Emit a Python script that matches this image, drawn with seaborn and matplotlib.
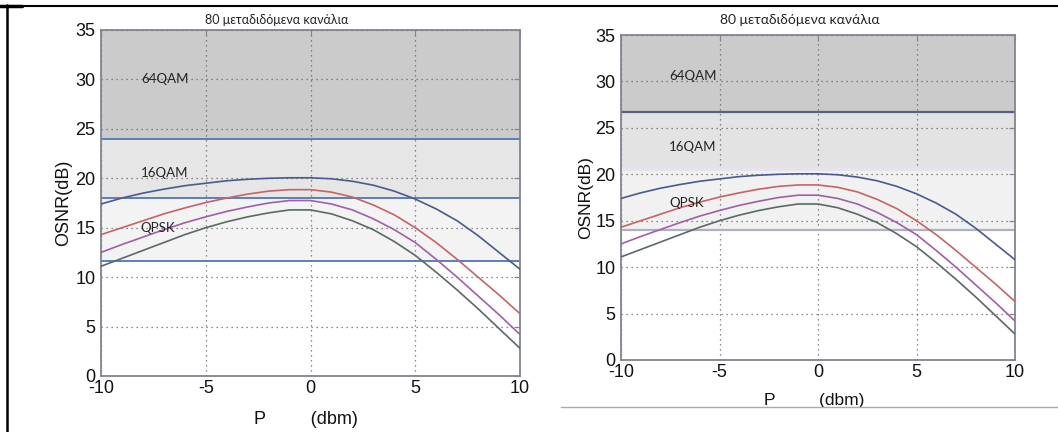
import numpy as np
import pandas as pd
import matplotlib
matplotlib.use("Agg")
import matplotlib.pyplot as plt
from matplotlib.lines import Line2D
import seaborn as sns

# ---------------- data ----------------
power_dbm = [-10, -9, -8, -7, -6, -5, -4, -3, -2, -1, 0, 1, 2, 3, 4, 5, 6, 7, 8, 9, 10]
osnr_blue = [17.4, 18.0, 18.5, 18.9, 19.25, 19.5, 19.75, 19.9, 20.0, 20.05, 20.05,
             19.95, 19.7, 19.3, 18.7, 17.9, 16.9, 15.7, 14.2, 12.5, 10.8]
osnr_red = [14.3, 15.0, 15.7, 16.4, 17.0, 17.55, 18.0, 18.4, 18.7, 18.85, 18.85,
            18.6, 18.1, 17.3, 16.3, 15.0, 13.5, 11.8, 10.0, 8.2, 6.3]
osnr_magenta = [12.5, 13.3, 14.05, 14.8, 15.5, 16.1, 16.65, 17.1, 17.5, 17.75, 17.75,
                17.4, 16.8, 15.9, 14.8, 13.5, 11.8, 10.0, 8.1, 6.2, 4.2]
osnr_gray = [11.1, 11.9, 12.7, 13.5, 14.3, 15.0, 15.6, 16.1, 16.5, 16.8, 16.8,
             16.4, 15.7, 14.8, 13.6, 12.2, 10.5, 8.7, 6.8, 4.8, 2.8]
series_names = ["s1", "s2", "s3", "s4"]

band_labels = ["64QAM", "16QAM", "QPSK"]
thresholds_left = [24.0, 18.0, 11.6]     # lower edges of 64QAM / 16QAM / QPSK
thresholds_right = [26.7, 20.6, 14.0]
label_y_left = [30.0, 20.55, 15.0]
label_y_right = [30.6, 22.9, 16.9]
title_text = "80 μεταδιδόμενα κανάλια"
xlabel_text = "P         (dbm)"
ylabel_text = "OSNR(dB)"
x_ticks = [-10, -5, 0, 5, 10]
y_ticks = [0, 5, 10, 15, 20, 25, 30, 35]

# ---------------- styling ----------------
sns.set_theme(style="white")
plt.rcParams["font.family"] = ["Liberation Sans", "DejaVu Sans"]
plt.rcParams["axes.unicode_minus"] = False

curve_colors = {"s1": "#4b5a8e", "s2": "#c46468", "s3": "#a25ea6", "s4": "#5c6868"}
band_colors = {
    "left": ["#cbcbcb", "#e6e6e6", "#f3f3f3"],
    "right": ["#cbcbcb", "#e3e3e3", "#f1f1f1"],
}
line_colors = {
    "left": ["#5475b3", "#5475b3", "#5475b3"],
    "right": ["#5a5f7e", "#e4e4ee", "#b0b0c0"],
}
line_widths = {"left": [1.3, 1.3, 1.3], "right": [1.6, 2.2, 1.6]}
frame_color = "#80858f"

df = pd.DataFrame({
    "P": power_dbm * 4,
    "OSNR": osnr_blue + osnr_red + osnr_magenta + osnr_gray,
    "series": sum([[n] * len(power_dbm) for n in series_names], []),
})

fig = plt.figure(figsize=(10.58, 4.32), dpi=100)
ax_l = fig.add_axes([101 / 1058, 1 - 376 / 432, 419 / 1058, 346 / 432])
ax_r = fig.add_axes([621 / 1058, 1 - 360 / 432, 394 / 1058, 325 / 432])

panels = [
    (ax_l, "left", thresholds_left, label_y_left, -8.1, 13, 13, 9.5, 9),
    (ax_r, "right", thresholds_right, label_y_right, -7.55, 13, 12.5, 9.5, 10),
]

for ax, side, thr, lab_y, lab_x, tick_fs, lab_fs, band_fs, title_fs in panels:
    tops = [35.0, thr[0], thr[1]]
    for i in range(3):
        ax.axhspan(thr[i], tops[i], color=band_colors[side][i], zorder=0.1, lw=0)
    for i in range(3):
        ax.axhline(thr[i], color=line_colors[side][i], lw=line_widths[side][i], zorder=1.2)

    sns.lineplot(data=df, x="P", y="OSNR", hue="series", palette=curve_colors,
                 legend=False, ax=ax, lw=1.2, zorder=3)

    for name, y in zip(band_labels, lab_y):
        ax.text(lab_x, y, name, ha="left", va="center", fontsize=band_fs,
                family=["Lato", "DejaVu Sans"], color="#222222", zorder=4)

    ax.set_xlim(-10, 10)
    ax.set_ylim(0, 35)
    ax.set_xticks(x_ticks)
    ax.set_yticks(y_ticks)
    ax.grid(True, linestyle=(0, (1, 3)), color="#666666", lw=0.9)
    ax.set_axisbelow(True)
    ax.tick_params(direction="in", top=True, right=True, length=4, width=0.8,
                   color=frame_color, labelsize=tick_fs, labelcolor="#111111")
    ax.tick_params(axis="x", pad=3)
    ax.tick_params(axis="y", pad=4)
    for sp in ax.spines.values():
        sp.set_color(frame_color)
        sp.set_linewidth(1.3)

    ax.set_xlabel(xlabel_text, fontsize=lab_fs, color="#111111")
    ax.set_ylabel(ylabel_text, fontsize=lab_fs, color="#111111")
    ax.xaxis.set_label_coords(0.49, -0.10)
    ax.yaxis.set_label_coords(-0.09, 0.5)
    ax.yaxis.label.set_va("center")

# titles (offset left of axes centre as in the scan)
fig.text(277 / 1058, 1 - 20 / 432, title_text, ha="center", va="center",
         fontsize=9, family=["Lato", "DejaVu Sans"], color="#222222")
fig.text(800 / 1058, 1 - 20 / 432, title_text, ha="center", va="center",
         fontsize=10, family=["Lato", "DejaVu Sans"], color="#222222")

# scan frame decorations
def fig_line(x0, y0, x1, y1, color, lw):
    fig.add_artist(Line2D([x0 / 1058, x1 / 1058], [1 - y0 / 432, 1 - y1 / 432],
                          transform=fig.transFigure, color=color, lw=lw))

fig_line(7, 5.5, 1058, 5.5, "black", 1.5)
fig_line(0, 5.5, 22, 5.5, "black", 2.5)
fig_line(7, 5, 7, 432, "black", 1.8)
fig_line(561, 407, 1058, 407, "#aaaaaa", 1.0)

fig.savefig("out.png", dpi=100)
